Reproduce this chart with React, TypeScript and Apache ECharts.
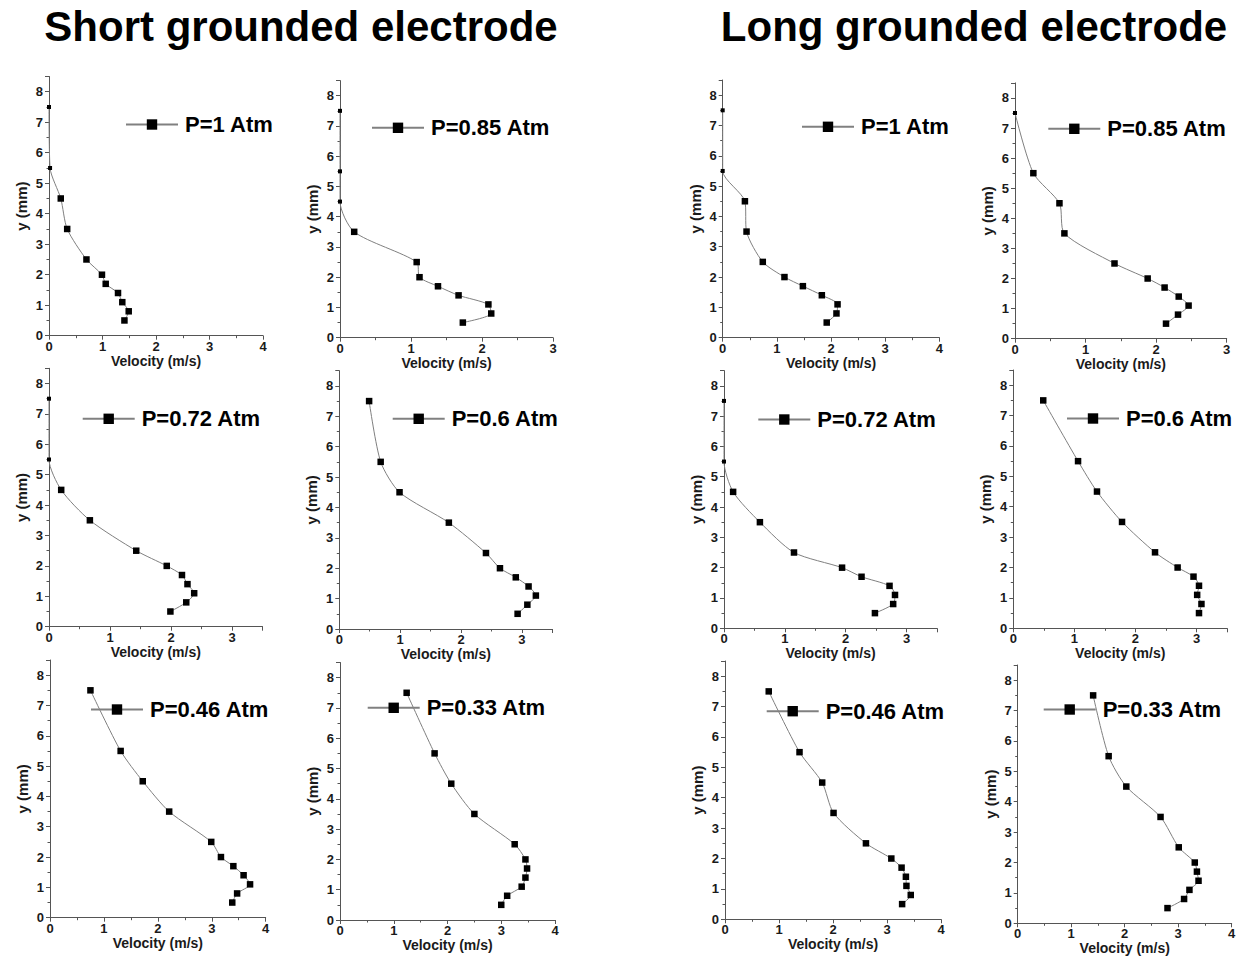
import React, { useEffect, useRef } from "react";
import * as echarts from "echarts";

// Heights above the electrode at which velocity was measured (mm)
const Y_LEVELS = [7.5, 5.5, 4.5, 3.5, 2.5, 2.0, 1.7, 1.4, 1.1, 0.8, 0.5];

const PRESSURES = ["P=1 Atm", "P=0.85 Atm", "P=0.72 Atm", "P=0.6 Atm", "P=0.46 Atm", "P=0.33 Atm"];

// Velocity axis upper limit per pressure (m/s)
const X_MAX = [4, 3, 3.5, 3.5, 4, 4];

// Short grounded electrode: velocity (m/s) at each Y_LEVELS height
const shortP100 = [0, 0.02, 0.22, 0.34, 0.7, 0.99, 1.06, 1.29, 1.37, 1.49, 1.41];
const shortP085 = [0, 0, 0, 0.2, 1.08, 1.12, 1.38, 1.67, 2.09, 2.13, 1.73];
const shortP072 = [0, 0, 0.2, 0.67, 1.43, 1.93, 2.18, 2.27, 2.38, 2.25, 1.99];
const shortP060 = [0.49, 0.68, 0.99, 1.8, 2.41, 2.64, 2.9, 3.11, 3.23, 3.09, 2.93];
const shortP046 = [0.75, 1.31, 1.72, 2.21, 2.99, 3.17, 3.4, 3.59, 3.71, 3.47, 3.38];
const shortP033 = [1.24, 1.76, 2.07, 2.5, 3.25, 3.45, 3.48, 3.45, 3.38, 3.11, 3.0];

// Long grounded electrode
const longP100 = [0, 0, 0.41, 0.44, 0.74, 1.14, 1.48, 1.83, 2.12, 2.1, 1.92];
const longP085 = [0, 0.26, 0.63, 0.7, 1.41, 1.88, 2.12, 2.32, 2.46, 2.31, 2.14];
const longP072 = [0, 0, 0.15, 0.59, 1.15, 1.94, 2.26, 2.72, 2.81, 2.78, 2.48];
const longP060 = [0.49, 1.06, 1.37, 1.78, 2.32, 2.69, 2.95, 3.04, 3.01, 3.08, 3.04];
const longP046 = [0.81, 1.38, 1.8, 2.01, 2.61, 3.08, 3.27, 3.35, 3.36, 3.44, 3.28];
const longP033 = [1.41, 1.7, 2.03, 2.67, 3.01, 3.31, 3.35, 3.38, 3.21, 3.11, 2.8];

const SHORT_SETS = [shortP100, shortP085, shortP072, shortP060, shortP046, shortP033];
const LONG_SETS = [longP100, longP085, longP072, longP060, longP046, longP033];

const TITLES = ["Short grounded electrode", "Long grounded electrode"];

// Panel placement: [left, top, width, height] of each plot area, and legend anchor [x, y]
const GRIDS = [
  [49, 76.5, 214, 259.2],
  [340, 80.6, 213, 257.1],
  [49, 368.3, 213.5, 258.4],
  [339.3, 370.7, 213, 258.3],
  [50, 660, 215.7, 257.7],
  [340, 662.5, 215, 257.5],
  [722.7, 80, 216.7, 257.7],
  [1015, 82.9, 211.7, 255.8],
  [724, 370.6, 213, 257.7],
  [1013.3, 370, 213.8, 258.3],
  [725, 661, 216, 258.3],
  [1017.7, 665, 214, 258.3],
];
const LEGEND_AT = [
  [125, 120],
  [371, 123.3],
  [81.7, 414.3],
  [391.7, 414.3],
  [90, 705],
  [366.7, 703.3],
  [801, 122.3],
  [1047.3, 124.3],
  [757.3, 415],
  [1066, 414],
  [765.7, 706.7],
  [1042.7, 705],
];

const FONT = 'Arial, "Liberation Sans", Helvetica, sans-serif';
const AXIS_COLOR = "#555";
const TEXT_COLOR = "#1a1a1a";

const intLabel = (v: number) => (Number.isInteger(v) ? String(v) : "");

export default function App() {
  const ref = useRef<HTMLDivElement>(null);

  useEffect(() => {
    if (!ref.current) return;
    const chart = echarts.init(ref.current, undefined, { renderer: "svg" });

    const grid: any[] = [];
    const xAxis: any[] = [];
    const yAxis: any[] = [];
    const series: any[] = [];
    const legend: any[] = [];

    // Panel order: left block (short) then right block (long), each row by row
    const panels: { values: number[]; p: number }[] = [];
    [SHORT_SETS, LONG_SETS].forEach((sets) => {
      sets.forEach((values, p) => panels.push({ values, p }));
    });

    panels.forEach(({ values, p }, i) => {
      const [left, top, width, height] = GRIDS[i];
      grid.push({ left, top, width, height, containLabel: false });
      xAxis.push({
        gridIndex: i,
        type: "value",
        min: 0,
        max: X_MAX[p],
        interval: 1,
        name: "Velocity (m/s)",
        nameLocation: "middle",
        nameGap: 16,
        nameTextStyle: { fontWeight: "bold", fontSize: 14, color: TEXT_COLOR, fontFamily: FONT },
        axisLine: { show: true, onZero: false, lineStyle: { color: AXIS_COLOR, width: 1 } },
        axisTick: { show: true, inside: false, length: 4, lineStyle: { color: AXIS_COLOR } },
        minorTick: { show: true, splitNumber: 2, length: 2.5, lineStyle: { color: AXIS_COLOR } },
        axisLabel: { fontWeight: "bold", fontSize: 13, color: TEXT_COLOR, fontFamily: FONT, margin: 4, formatter: intLabel },
        splitLine: { show: false },
      });
      yAxis.push({
        gridIndex: i,
        type: "value",
        min: 0,
        max: 8.5,
        interval: 1,
        name: "y (mm)",
        nameLocation: "middle",
        nameGap: 20,
        nameTextStyle: { fontWeight: "bold", fontSize: 15, color: TEXT_COLOR, fontFamily: FONT },
        axisLine: { show: true, onZero: false, lineStyle: { color: AXIS_COLOR, width: 1 } },
        axisTick: { show: true, inside: false, length: 4, lineStyle: { color: AXIS_COLOR } },
        minorTick: { show: true, splitNumber: 2, length: 2.5, lineStyle: { color: AXIS_COLOR } },
        axisLabel: { fontWeight: "bold", fontSize: 13, color: TEXT_COLOR, fontFamily: FONT, margin: 6, formatter: intLabel },
        splitLine: { show: false },
      });
      const name = PRESSURES[p];
      series.push({
        type: "line",
        name,
        xAxisIndex: i,
        yAxisIndex: i,
        data: values.map((v, k) => [v, Y_LEVELS[k]]),
        smooth: 0.25,
        symbol: "rect",
        symbolSize: (val: number[]) => (val[0] < 0.05 ? 4 : 6.5),
        lineStyle: { color: "#808080", width: 1 },
        itemStyle: { color: "#000" },
        clip: false,
        z: 3,
      });
      const [lx, ly] = LEGEND_AT[i];
      legend.push({
        data: [name],
        left: lx,
        top: ly - 6.5,
        padding: 0,
        itemWidth: 52,
        itemHeight: 13,
        selectedMode: false,
        textStyle: { fontSize: 22, fontWeight: "bold", color: "#000", fontFamily: FONT, padding: [0, 0, 0, 2] },
        z: 5,
      });
    });

    const titleCenters = [301, 974];
    const graphic = TITLES.map((text, k) => ({
      type: "text",
      x: titleCenters[k],
      y: 26,
      style: {
        text,
        font: `bold 42px ${FONT}`,
        fill: "#000",
        align: "center",
        verticalAlign: "middle",
        textAlign: "center",
        textVerticalAlign: "middle",
      },
    }));

    chart.setOption({
      animation: false,
      backgroundColor: "#fff",
      grid,
      xAxis,
      yAxis,
      series,
      legend,
      graphic,
    });

    return () => chart.dispose();
  }, []);

  return <div ref={ref} style={{ position: "absolute", left: 0, top: 0, width: 1240, height: 957 }} />;
}
